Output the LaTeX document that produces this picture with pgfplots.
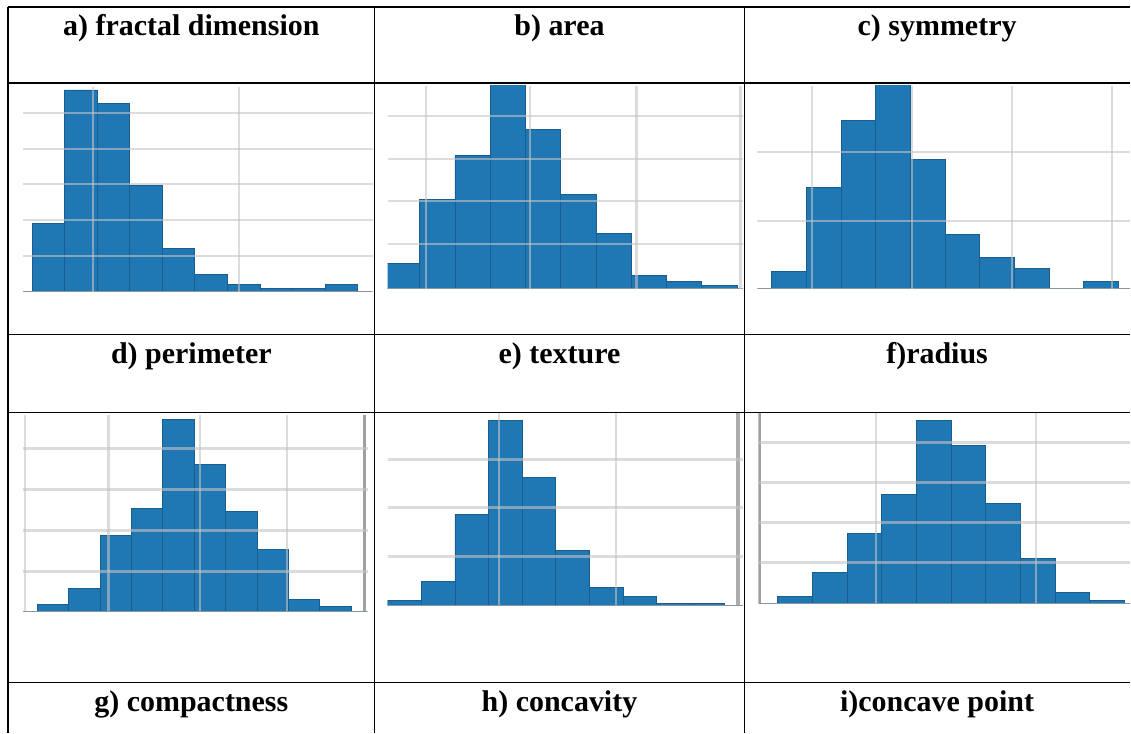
\documentclass[border=0pt]{standalone}
\usepackage{pgfplots}
\pgfplotsset{compat=1.18}
\usepackage{fontspec}
\setmainfont{Liberation Serif}
\definecolor{barblue}{HTML}{1F77B4}
\definecolor{baredge}{HTML}{1A5E90}
\definecolor{gridgray}{HTML}{C4C4C4}
\definecolor{basegray}{HTML}{8A96A3}
\pgfplotsset{
  histo/.style={
    scale only axis, anchor=south west, axis on top,
    enlargelimits=false, ymin=0, clip=true,
    axis line style={draw=none}, tick style={draw=none},
    xticklabels={}, yticklabels={},
    ticklabel style={opacity=0},
    xmajorgrids, ymajorgrids,
    grid style={line width=1.1pt, color=gridgray, opacity=0.6},
  },
  hbar/.style={ybar interval, fill=barblue, draw=baredge, line width=0.4pt},
}
\newcommand{\hfont}{\fontsize{15pt}{18pt}\selectfont\bfseries}
\newcommand{\baseln}{\draw[basegray, line width=0.9pt] (rel axis cs:0,0) -- (rel axis cs:1,0);}
\begin{document}
\begin{tikzpicture}
\begin{scope}[x=0.5pt,y=0.5pt]
\useasboundingbox (0,0) rectangle (1131,734);
% table rules
\draw[line width=0.7pt] (8,727) -- (1131,727);
\draw[line width=0.7pt] (8,651) -- (1131,651);
\draw[line width=0.7pt] (8,399) -- (1131,399);
\draw[line width=0.7pt] (8,321) -- (1131,321);
\draw[line width=0.7pt] (8,51) -- (1131,51);
\draw[line width=0.7pt] (8,727) -- (8,0);
\draw[line width=0.7pt] (375,727) -- (375,0);
\draw[line width=0.7pt] (745,727) -- (745,0);
% headers
\node[anchor=base, font=\hfont, inner sep=0pt] at (191.5,698) {a) fractal dimension};
\node[anchor=base, font=\hfont, inner sep=0pt] at (560,698) {b) area};
\node[anchor=base, font=\hfont, inner sep=0pt] at (938,698) {c) symmetry};
\node[anchor=base, font=\hfont, inner sep=0pt] at (191.5,370) {d) perimeter};
\node[anchor=base, font=\hfont, inner sep=0pt] at (560,370) {e) texture};
\node[anchor=base, font=\hfont, inner sep=0pt] at (938,370) {f)radius};
\node[anchor=base, font=\hfont, inner sep=0pt] at (191.5,22) {g) compactness};
\node[anchor=base, font=\hfont, inner sep=0pt] at (560,22) {h) concavity};
\node[anchor=base, font=\hfont, inner sep=0pt] at (938,22) {i)concave point};
\end{scope}

% a) fractal dimension
\begin{axis}[histo, at={(11.5pt,221pt)}, width=175pt, height=102.5pt,
  xmin=-0.28, xmax=10.46, ymax=205,
  xtick={1.87,6.35}, ytick={36,72,108,143,179}]
\addplot[hbar] coordinates {(0,68) (1,202) (2,188) (3,106) (4,43) (5,17) (6,7) (7,3) (8,3) (9,7) (10,7)};
\baseln
\end{axis}

% b) area
\begin{axis}[histo, at={(194pt,222.5pt)}, width=178pt, height=101.5pt,
  xmin=0.09, xmax=10.18, ymax=203,
  xtick={1.17,4.12,7.15,10.1}, ytick={45,88,130,173}]
\addplot[hbar] coordinates {(0,25) (1,89) (2,133) (3,215) (4,159) (5,94) (6,55) (7,13) (8,7) (9,3) (10,3)};
\baseln
\end{axis}

% c) symmetry
\begin{axis}[histo, at={(379pt,222.5pt)}, width=186.5pt, height=101.5pt,
  xmin=-0.42, xmax=10.33, ymax=203,
  xtick={1.17,4.05,6.93,9.81}, ytick={68,137}]
\addplot[hbar] coordinates {(0,17) (1,101) (2,168) (3,215) (4,129) (5,54) (6,31) (7,20) (8,0) (9,7) (10,7)};
\baseln
\end{axis}

% d) perimeter
\begin{axis}[histo, at={(11.5pt,61pt)}, width=172.5pt, height=98.5pt,
  xmin=-0.46, xmax=10.53, ymax=197,
  xtick={-0.39,2.27,5.18,7.95}, ytick={40,81,122,163}]
\addplot[hbar] coordinates {(0,7) (1,23) (2,76) (3,103) (4,192) (5,147) (6,100) (7,62) (8,12) (9,5) (10,5)};
\baseln
\draw[gray!75, line width=1.6pt] (rel axis cs:0.99,0) -- (rel axis cs:0.99,1);
\end{axis}

% e) texture
\begin{axis}[histo, at={(194pt,64pt)}, width=178pt, height=96.5pt,
  xmin=0, xmax=10.57, ymax=193,
  xtick={3.30,6.79}, ytick={49,98,146}]
\addplot[hbar] coordinates {(0,5) (1,24) (2,91) (3,185) (4,128) (5,55) (6,18) (7,9) (8,2) (9,2) (10,2)};
\baseln
\draw[gray!65, line width=2pt] (rel axis cs:0.985,0) -- (rel axis cs:0.985,1);
\end{axis}

% f) radius
\begin{axis}[histo, at={(379.5pt,65pt)}, width=186pt, height=95.5pt,
  xmin=-0.56, xmax=10.16, ymax=191,
  xtick={2.84,7.45}, ytick={41,81,121,161}]
\addplot[hbar] coordinates {(0,7) (1,31) (2,70) (3,109) (4,183) (5,158) (6,100) (7,45) (8,11) (9,3) (10,3)};
\baseln
\draw[gray!75, line width=1.4pt] (rel axis cs:0.004,0) -- (rel axis cs:0.004,1);
\end{axis}
\end{tikzpicture}
\end{document}
